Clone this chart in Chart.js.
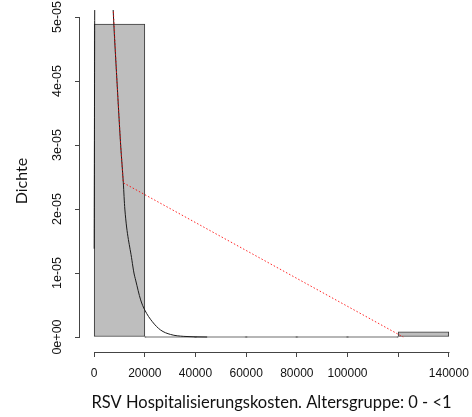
<!DOCTYPE html>
<html>
<head>
<meta charset="utf-8">
<script src="https://cdn.jsdelivr.net/npm/chart.js@4.4.1/dist/chart.umd.min.js"></script>
<style>
  html, body { margin: 0; padding: 0; background: #ffffff; }
  canvas { display: block; }
</style>
</head>
<body>
<canvas id="c" width="472" height="417"></canvas>
<script>
// Histogram bins (cost, EUR) and their densities
const binCenters = [10000, 30000, 50000, 70000, 90000, 110000, 130000];
const binDensity = [4.89e-5, 0, 0, 0, 0, 0, 8e-7];

// Fitted density curve
const curveX = [0, 300, 1500, 4000, 6000, 7490, 8990, 10450, 11500, 12100, 14900, 15700, 16360, 18340, 20000, 22950, 26200, 30150, 35400, 44600];
const curveY = [1.38e-5, 6.2e-5, 9.0e-5, 8.6e-5, 6.6e-5, 5.11e-5, 4.0e-5, 3.0e-5, 2.41e-5, 2.0e-5, 1.2e-5, 1.0e-5, 8.9e-6, 5.8e-6, 4.2e-6, 2.4e-6, 1.1e-6, 4e-7, 1e-7, 0];

// Observed points joined by the dotted red line
const obsX = [7300, 8990, 10450, 11500, 122000];
const obsY = [5.3e-5, 4.0e-5, 3.0e-5, 2.41e-5, 0];

// Axis ticks
const xTickValues = [0, 20000, 40000, 60000, 80000, 100000, 120000, 140000];
const xTickLabels = ['0', '20000', '40000', '60000', '80000', '100000', '', '140000'];
const yTickValues = [0, 1e-5, 2e-5, 3e-5, 4e-5, 5e-5];
const yTickLabels = ['0e+00', '1e-05', '2e-05', '3e-05', '4e-05', '5e-05'];

const xTitle = 'RSV Hospitalisierungskosten. Altersgruppe: 0 - <1';
const yTitle = 'Dichte';

const zip = (xs, ys) => xs.map((x, i) => ({ x: x, y: ys[i] }));

// R-style axis lines spanning only the first to last tick
const axisLines = {
  id: 'axisLines',
  afterDraw(chart) {
    const ctx = chart.ctx;
    const xs = chart.scales.x, ys = chart.scales.y;
    ctx.save();
    ctx.strokeStyle = '#444';
    ctx.lineWidth = 1;
    ctx.beginPath();
    const yLine = Math.round(xs.top) + 0.5;
    ctx.moveTo(Math.round(xs.getPixelForValue(xTickValues[0])) + 0.5, yLine);
    ctx.lineTo(Math.round(xs.getPixelForValue(xTickValues[xTickValues.length - 1])) + 0.5, yLine);
    const xLine = Math.round(ys.right) - 0.5;
    ctx.moveTo(xLine, Math.round(ys.getPixelForValue(yTickValues[0])) + 0.5);
    ctx.lineTo(xLine, Math.round(ys.getPixelForValue(yTickValues[yTickValues.length - 1])) + 0.5);
    ctx.stroke();
    ctx.restore();
  }
};

Chart.defaults.font.family = '"Liberation Sans", Arial, sans-serif';
Chart.defaults.color = '#111';

new Chart(document.getElementById('c'), {
  type: 'bar',
  data: {
    datasets: [
      {
        type: 'line',
        data: zip(obsX, obsY),
        borderColor: 'rgba(255,0,0,0.85)',
        borderWidth: 1,
        borderDash: [1.5, 2],
        pointRadius: 0,
        tension: 0,
        order: 1
      },
      {
        type: 'line',
        data: zip(curveX, curveY),
        borderColor: '#1c1c1c',
        borderWidth: 1,
        pointRadius: 0,
        cubicInterpolationMode: 'monotone',
        order: 2
      },
      {
        type: 'bar',
        data: zip(binCenters, binDensity),
        backgroundColor: '#bebebe',
        borderColor: '#3a3a3a',
        borderWidth: 1,
        borderSkipped: false,
        minBarLength: 1,
        barPercentage: 1,
        categoryPercentage: 1,
        order: 3
      }
    ]
  },
  options: {
    responsive: false,
    animation: false,
    devicePixelRatio: 1,
    layout: { padding: { left: 0, right: 9, top: 10, bottom: 0 } },
    plugins: { legend: { display: false }, tooltip: { enabled: false } },
    scales: {
      x: {
        type: 'linear',
        min: -5600,
        max: 145600,
        offset: false,
        grid: { display: true, offset: false, drawOnChartArea: false, drawTicks: true, tickLength: 5, color: '#444' },
        border: { display: false },
        afterBuildTicks(scale) { scale.ticks = xTickValues.map(v => ({ value: v })); },
        afterFit(scale) {
          scale.height = 65;
          scale.paddingLeft = 0;
          scale.paddingRight = 0;
        },
        ticks: {
          autoSkip: false,
          maxRotation: 0,
          minRotation: 0,
          padding: 9,
          font: { size: 12 },
          color: '#111',
          callback: (v) => xTickLabels[xTickValues.indexOf(v)]
        },
        title: {
          display: true,
          text: xTitle,
          font: { family: 'Lato, "Open Sans", sans-serif', size: 16.5 },
          color: '#111',
          padding: { top: 0, bottom: 4.6 }
        }
      },
      y: {
        type: 'linear',
        min: -2.34e-6,
        max: 5.11e-5,
        grid: { display: true, drawOnChartArea: false, drawTicks: true, tickLength: 5, color: '#444' },
        border: { display: false },
        afterBuildTicks(scale) { scale.ticks = yTickValues.map(v => ({ value: v })); },
        afterFit(scale) {
          scale.width = 80;
          scale.paddingTop = 0;
          scale.paddingBottom = 0;
        },
        ticks: {
          autoSkip: false,
          minRotation: 90,
          maxRotation: 90,
          crossAlign: 'center',
          padding: 0,
          font: { size: 12.5 },
          color: '#111',
          callback: (v) => yTickLabels[yTickValues.indexOf(v)]
        },
        title: {
          display: true,
          text: yTitle,
          font: { family: 'Lato, "Open Sans", sans-serif', size: 16 },
          color: '#111',
          padding: { top: 12.4, bottom: 0 }
        }
      }
    }
  },
  plugins: [axisLines]
});
</script>
</body>
</html>
